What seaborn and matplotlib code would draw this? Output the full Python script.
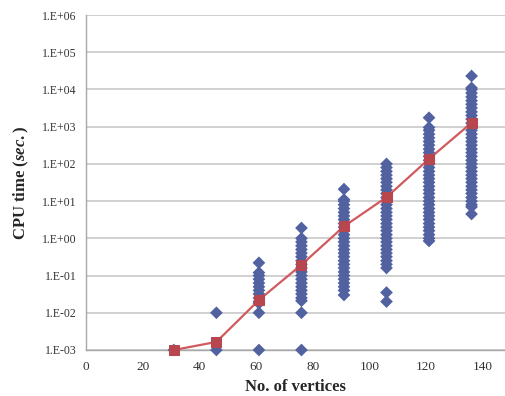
import matplotlib
matplotlib.use("Agg")
import matplotlib.pyplot as plt
import pandas as pd
import seaborn as sns
from matplotlib.ticker import FixedLocator, NullLocator

# CPU times per instance, grouped by number of vertices
vertices = [31, 46, 61, 76, 91, 106, 121, 136]

cpu_31 = [0.001]
cpu_46 = [0.001, 0.01]
cpu_61 = [0.001, 0.01, 0.018, 0.02, 0.025, 0.032, 0.04, 0.05, 0.063, 0.08,
          0.1, 0.12, 0.22]
cpu_76 = [0.001, 0.01, 0.021, 0.025, 0.032, 0.04, 0.05, 0.063, 0.08, 0.1,
          0.125, 0.16, 0.2, 0.25, 0.32, 0.4, 0.5, 0.63, 0.8, 1.0, 1.9]
cpu_91 = [0.03, 0.04, 0.05, 0.063, 0.08, 0.1, 0.125, 0.16, 0.2, 0.25, 0.32,
          0.4, 0.5, 0.63, 0.8, 1.0, 1.25, 1.6, 2.0, 2.5, 3.2, 4.0, 5.0, 6.3,
          8.0, 10.0, 11.0, 21.0]
cpu_106 = [0.02, 0.035, 0.16, 0.2, 0.25, 0.32, 0.4, 0.5, 0.63, 0.8, 1.0,
           1.25, 1.6, 2.0, 2.5, 3.2, 4.0, 5.0, 6.3, 8.0, 10.0, 12.5, 16.0,
           20.0, 25.0, 32.0, 40.0, 50.0, 63.0, 80.0, 100.0]
cpu_121 = [0.85, 1.0, 1.25, 1.6, 2.0, 2.5, 3.2, 4.0, 5.0, 6.3, 8.0, 10.0,
           12.5, 16.0, 20.0, 25.0, 32.0, 40.0, 50.0, 63.0, 80.0, 100.0, 125.0,
           160.0, 200.0, 250.0, 320.0, 400.0, 500.0, 630.0, 800.0, 950.0,
           1740.0]
cpu_136 = [4.5, 7.0, 8.0, 10.0, 12.5, 16.0, 20.0, 25.0, 32.0, 40.0, 50.0,
           63.0, 80.0, 100.0, 125.0, 160.0, 200.0, 250.0, 320.0, 400.0, 500.0,
           630.0, 800.0, 1000.0, 1250.0, 1600.0, 2000.0, 2500.0, 3200.0,
           4000.0, 5000.0, 6300.0, 8000.0, 10000.0, 11000.0, 23000.0]

# average CPU time per vertex count
mean_cpu = [0.001, 0.00165, 0.022, 0.195, 2.1, 12.7, 136.0, 1270.0]

y_ticks = [1e-3, 1e-2, 1e-1, 1e0, 1e1, 1e2, 1e3, 1e4, 1e5, 1e6]
y_tick_labels = ["1.E-03", "1.E-02", "1.E-01", "1.E+00", "1.E+01",
                 "1.E+02", "1.E+03", "1.E+04", "1.E+05", "1.E+06"]
x_ticks = [0, 20, 40, 60, 80, 100, 120, 140]

columns = [cpu_31, cpu_46, cpu_61, cpu_76, cpu_91, cpu_106, cpu_121, cpu_136]
points = pd.DataFrame(
    [(v, t) for v, col in zip(vertices, columns) for t in col],
    columns=["vertices", "cpu"],
)
means = pd.DataFrame({"vertices": vertices, "cpu": mean_cpu})

sns.set_theme(style="white")
plt.rcParams["font.family"] = ["Liberation Serif", "DejaVu Serif"]
plt.rcParams["mathtext.fontset"] = "custom"
plt.rcParams["mathtext.rm"] = "Liberation Serif:bold"
plt.rcParams["mathtext.it"] = "Liberation Serif:italic:bold"

fig = plt.figure(figsize=(5.05, 3.96), dpi=100)
ax = fig.add_axes([86 / 505, 1 - 350 / 396, 1 - 86 / 505, (350 - 15) / 396])

sns.scatterplot(data=points, x="vertices", y="cpu", ax=ax, marker="D",
                s=42, color="#5262A0", edgecolor="none", zorder=3,
                clip_on=False)
sns.lineplot(data=means, x="vertices", y="cpu", ax=ax, color="#D05A5E",
             linewidth=1.6, marker="s", markersize=6.5,
             markerfacecolor="#B8464F", markeredgecolor="#B8464F", zorder=4,
             clip_on=False)

ax.set_yscale("log")
ax.set_ylim(1e-3, 1e6)
ax.set_xlim(0, 147.8)
ax.yaxis.set_major_locator(FixedLocator(y_ticks))
ax.yaxis.set_minor_locator(NullLocator())
ax.set_yticklabels(y_tick_labels)
ax.set_xticks(x_ticks)

ax.grid(axis="y", color="#C8C8C8", linewidth=1.2)
ax.set_axisbelow(True)
for side in ["top", "right"]:
    ax.spines[side].set_visible(False)
for side in ["left", "bottom"]:
    ax.spines[side].set_color("#A8A8A8")
    ax.spines[side].set_linewidth(1.0)
ax.tick_params(axis="both", which="major", direction="out", length=4,
               width=1.0, color="#A8A8A8")
ax.tick_params(axis="x", labelsize=9.5, pad=4, labelcolor="#333333")
ax.tick_params(axis="y", labelsize=8.5, pad=3, labelcolor="#333333")

ax.set_xlabel("No. of vertices", fontsize=12, fontweight="bold", labelpad=4)
ax.set_ylabel(r"CPU time ($\mathit{sec.}$)", fontsize=12, fontweight="bold",
              labelpad=8)

fig.savefig("out.png", dpi=100)
